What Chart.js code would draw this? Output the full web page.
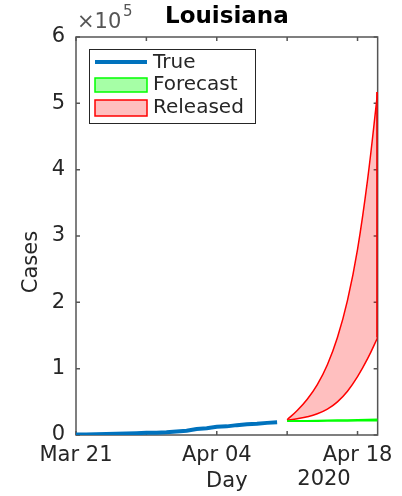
<!DOCTYPE html>
<html>
<head>
<meta charset="utf-8">
<script src="https://cdn.jsdelivr.net/npm/chart.js@4.4.0/dist/chart.umd.min.js"></script>
<style>
  html, body { margin: 0; padding: 0; background: #fff; overflow: hidden; }
  #wrap { position: relative; width: 402px; height: 496px; }
</style>
</head>
<body>
<div id="wrap"><canvas id="chart"></canvas></div>
<script>
// days shown on the x axis (Mar 21 .. Apr 20)
const days = ['Mar 21', 'Mar 22', 'Mar 23', 'Mar 24', 'Mar 25', 'Mar 26', 'Mar 27', 'Mar 28',
  'Mar 29', 'Mar 30', 'Mar 31', 'Apr 01', 'Apr 02', 'Apr 03', 'Apr 04', 'Apr 05', 'Apr 06',
  'Apr 07', 'Apr 08', 'Apr 09', 'Apr 10', 'Apr 11', 'Apr 12', 'Apr 13', 'Apr 14', 'Apr 15',
  'Apr 16', 'Apr 17', 'Apr 18', 'Apr 19', 'Apr 20'];
const xTickDays = ['Mar 21', 'Mar 28', 'Apr 04', 'Apr 11', 'Apr 18'];
const xLabelDays = ['Mar 21', 'Apr 04', 'Apr 18'];
const yTicks = [0, 1, 2, 3, 4, 5, 6]; // x 10^5

// observed cases, Mar 21 .. Apr 10
const trueCases = [585, 837, 1172, 1388, 1795, 2305, 2746, 3315, 3540, 4025, 5237,
  6424, 9150, 10297, 12496, 13010, 14867, 16284, 17030, 18283, 19253];

// projections, Apr 11 .. Apr 20
const forecastLow = [20600, 20700, 20800, 20900, 21000, 21100, 21200, 21300, 21400, 21500];
const forecastHigh = [21000, 21300, 21600, 21900, 22200, 22500, 22800, 23100, 23400, 23700];
const releasedLow = [22000, 24500, 27500, 32000, 39000, 50000, 66000, 88000, 115000, 147000];
const releasedHigh = [23000, 37000, 54000, 76000, 106000, 147000, 203000, 280000, 385000, 517000];

const FONT = "'DejaVu Sans', sans-serif";
const TXT = '#262626';

const startTrue = days.indexOf('Mar 21');
const startProj = days.indexOf('Apr 11');
const pts = (arr, start) => arr.map((v, i) => ({ x: start + i, y: v }));
const last = days.length - 1;

// MATLAB style box, inner ticks and the extra labels
const matlabAxes = {
  id: 'matlabAxes',
  beforeDatasetsDraw(chart) {
    const { ctx, chartArea: a, scales: { x, y } } = chart;
    ctx.save();
    ctx.strokeStyle = '#555';
    ctx.lineWidth = 1.5;
    ctx.strokeRect(a.left, a.top, a.right - a.left, a.bottom - a.top);
    ctx.beginPath();
    xTickDays.forEach(d => {
      const px = x.getPixelForValue(days.indexOf(d));
      ctx.moveTo(px, a.bottom); ctx.lineTo(px, a.bottom - 4);
      ctx.moveTo(px, a.top); ctx.lineTo(px, a.top + 4);
    });
    yTicks.forEach(t => {
      const py = y.getPixelForValue(t * 1e5);
      ctx.moveTo(a.left, py); ctx.lineTo(a.left + 4, py);
      ctx.moveTo(a.right, py); ctx.lineTo(a.right - 4, py);
    });
    ctx.stroke();
    ctx.restore();
  },
  afterDraw(chart) {
    const { ctx, chartArea: a } = chart;
    const cx = (a.left + a.right) / 2;
    ctx.save();
    ctx.textBaseline = 'middle';

    // title
    ctx.fillStyle = '#000';
    ctx.font = 'bold 23px ' + FONT;
    ctx.textAlign = 'center';
    ctx.fillText('Louisiana', cx, 17);

    // exponent
    ctx.fillStyle = '#555';
    ctx.textAlign = 'left';
    ctx.font = '21px ' + FONT;
    ctx.fillText('\u00d710', a.left + 1, 23);
    ctx.font = '15px ' + FONT;
    ctx.fillText('5', a.left + 47, 12);

    // axis titles
    ctx.fillStyle = TXT;
    ctx.font = '21px ' + FONT;
    ctx.textAlign = 'center';
    ctx.fillText('Day', cx, 482);
    ctx.fillText('2020', 324, 480);
    ctx.save();
    ctx.translate(32, 262);
    ctx.rotate(-Math.PI / 2);
    ctx.fillText('Cases', 0, 0);
    ctx.restore();

    // legend
    const lx = 89, ly = 49, lw = 166, lh = 74;
    ctx.fillStyle = '#fff';
    ctx.fillRect(lx, ly, lw, lh);
    ctx.strokeStyle = '#262626';
    ctx.lineWidth = 1;
    ctx.strokeRect(lx + 0.5, ly + 0.5, lw, lh);

    ctx.strokeStyle = '#0072BD';
    ctx.lineWidth = 4;
    ctx.beginPath();
    ctx.moveTo(95, 62); ctx.lineTo(147, 62);
    ctx.stroke();

    ctx.lineWidth = 1.5;
    ctx.fillStyle = 'rgba(0,255,0,0.35)';
    ctx.strokeStyle = '#00ff00';
    ctx.fillRect(95, 78, 52, 14);
    ctx.strokeRect(95, 78, 52, 14);
    ctx.fillStyle = 'rgba(255,0,0,0.25)';
    ctx.strokeStyle = '#ff0000';
    ctx.fillRect(95, 100, 52, 16);
    ctx.strokeRect(95, 100, 52, 16);

    ctx.fillStyle = TXT;
    ctx.font = '20px ' + FONT;
    ctx.textAlign = 'left';
    ctx.fillText('True', 153, 63);
    ctx.fillText('Forecast', 153, 85);
    ctx.fillText('Released', 153, 108);
    ctx.restore();
  }
};

new Chart(document.getElementById('chart'), {
  type: 'line',
  data: {
    datasets: [
      {
        label: 'True',
        data: pts(trueCases, startTrue),
        borderColor: '#0072BD',
        borderWidth: 4,
        pointRadius: 0,
        fill: false
      },
      {
        label: 'Forecast',
        data: pts(forecastHigh, startProj),
        borderColor: '#00ff00',
        borderWidth: 1.5,
        pointRadius: 0,
        backgroundColor: 'rgba(0,255,0,0.35)',
        fill: '+1'
      },
      {
        label: 'Forecast low',
        data: pts(forecastLow, startProj),
        borderColor: '#00ff00',
        borderWidth: 1.5,
        pointRadius: 0,
        fill: false
      },
      {
        label: 'Released',
        data: pts(releasedHigh, startProj),
        borderColor: '#ff0000',
        borderWidth: 1.5,
        pointRadius: 0,
        tension: 0.4,
        backgroundColor: 'rgba(255,0,0,0.25)',
        fill: '+1'
      },
      {
        label: 'Released low',
        data: pts(releasedLow, startProj),
        borderColor: '#ff0000',
        borderWidth: 1.5,
        pointRadius: 0,
        tension: 0.4,
        fill: false
      },
      {
        label: 'Released edge',
        data: [{ x: last, y: releasedLow[releasedLow.length - 1] },
               { x: last, y: releasedHigh[releasedHigh.length - 1] }],
        borderColor: '#ff0000',
        borderWidth: 3,
        pointRadius: 0,
        fill: false
      }
    ]
  },
  options: {
    responsive: true,
    maintainAspectRatio: false,
    animation: false,
    devicePixelRatio: 1,
    layout: { padding: { left: 0, top: 37, right: 24, bottom: 0 } },
    plugins: {
      legend: { display: false },
      tooltip: { enabled: false },
      title: { display: false }
    },
    scales: {
      x: {
        type: 'linear',
        min: 0,
        max: last,
        offset: false,
        grid: { display: false, drawTicks: false },
        border: { display: false },
        afterBuildTicks: s => { s.ticks = xLabelDays.map(d => ({ value: days.indexOf(d) })); },
        afterFit: s => { s.height = 61; },
        ticks: {
          autoSkip: false,
          maxRotation: 0,
          padding: 8,
          color: TXT,
          font: { family: FONT, size: 21 },
          callback: v => days[v]
        }
      },
      y: {
        min: 0,
        max: 6e5,
        grid: { display: false, drawTicks: false },
        border: { display: false },
        afterBuildTicks: s => { s.ticks = yTicks.map(t => ({ value: t * 1e5 })); },
        afterFit: s => { s.width = 76; },
        ticks: {
          padding: 11,
          color: TXT,
          font: { family: FONT, size: 21 },
          callback: v => String(v / 1e5)
        }
      }
    }
  },
  plugins: [matlabAxes]
});
</script>
</body>
</html>
